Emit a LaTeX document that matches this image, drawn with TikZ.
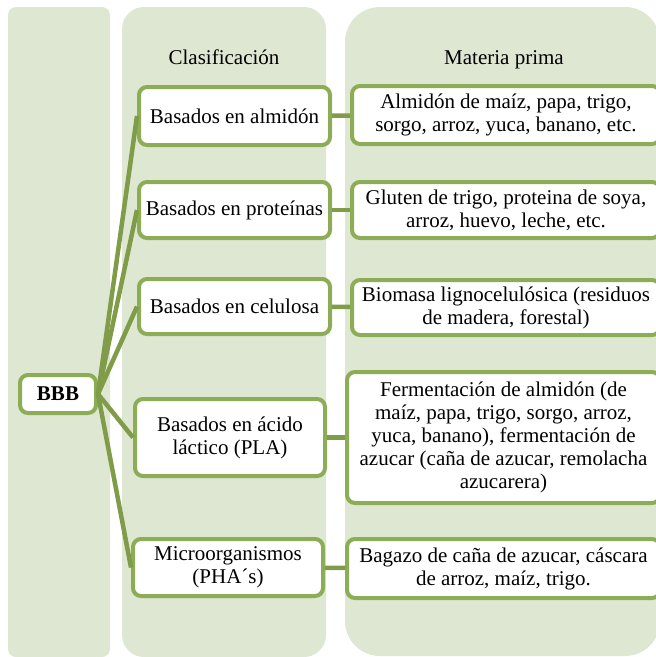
\documentclass[tikz,border=0pt]{standalone}
\usepackage{fontspec}
\setmainfont{Liberation Serif}
\newfontfamily\boxfont{Liberation Serif}
\usepackage{tikz}
\usetikzlibrary{shapes}
\definecolor{colbg}{RGB}{222,231,210}
\definecolor{boxgreen}{RGB}{141,172,86}
\definecolor{linkgreen}{RGB}{128,156,73}

\begin{document}
\begin{tikzpicture}[x=1pt, y=-1pt, thick]
	\tikzstyle{column} = [fill=colbg, draw=none]
	\tikzstyle{block} = [rectangle, draw=boxgreen, line width=4pt, fill=white, align=center, rounded corners=8pt, inner sep=0pt, font=\boxfont\fontsize{21}{23}\selectfont]
	\tikzstyle{head} = [anchor=base, font=\boxfont\fontsize{21}{23}\selectfont]
	\tikzstyle{line} = [draw, line width=4.5pt, color=linkgreen];
	\useasboundingbox (0,0) rectangle (656,657);
	\clip (0,0) rectangle (656,657);
	% columns
	\fill [column, rounded corners=8pt] (8,7) rectangle (110,657);
	\fill [column, rounded corners=22pt] (122,7) rectangle (326,657);
	\fill [column, rounded corners=35pt] (345,7) rectangle (660,656);
	\node [head] (hclas) at (224,64) {Clasificación};
	\node [head] (hmat) at (504,64) {Materia prima};
	% root
	\node [block, minimum width=76pt, minimum height=38pt] (bbb) at (58,394) {\textbf{BBB}};
	% column 2
	\node [block, minimum width=191pt, minimum height=58pt] (almidon) at (234.5,116) {Basados en almidón};
	\node [block, minimum width=191pt, minimum height=56pt] (proteinas) at (234.5,210) {Basados en proteínas};
	\node [block, minimum width=191pt, minimum height=55pt] (celulosa) at (234.5,306.5) {Basados en celulosa};
	\node [block, minimum width=190pt, minimum height=77pt] (pla) at (230,437.5) {Basados en ácido\\láctico (PLA)};
	\node [block, minimum width=190pt, minimum height=57pt] (pha) at (228,567.5) {Microorganismos\\(PHA´s)};
	% column 3
	\node [block, minimum width=308pt, minimum height=58pt] (malmidon) at (506,115) {Almidón de maíz, papa, trigo,\\sorgo, arroz, yuca, banano, etc.};
	\node [block, minimum width=308pt, minimum height=56pt] (mproteinas) at (506,210) {Gluten de trigo, proteina de soya,\\arroz, huevo, leche, etc.};
	\node [block, minimum width=308pt, minimum height=55pt] (mcelulosa) at (506,307.5) {Biomasa lignocelulósica (residuos\\de madera, forestal)};
	\node [block, minimum width=313pt, minimum height=131pt] (mpla) at (503.5,437.5) {Fermentación de almidón (de\\maíz, papa, trigo, sorgo, arroz,\\yuca, banano), fermentación de\\azucar (caña de azucar, remolacha\\azucarera)};
	\node [block, minimum width=313pt, minimum height=59pt] (mpha) at (503.5,568.5) {Bagazo de caña de azucar, cáscara\\de arroz, maíz, trigo.};
	\tikzstyle{every path}=[line]
	\path (bbb.east) -- (almidon.west);
	\path (bbb.east) -- (proteinas.west);
	\path (bbb.east) -- (celulosa.west);
	\path (bbb.east) -- (pla.west);
	\path (bbb.east) -- (pha.west);
	\path (almidon) -- (malmidon);
	\path (proteinas) -- (mproteinas);
	\path (celulosa) -- (mcelulosa);
	\path (pla) -- (mpla);
	\path (pha) -- (mpha);
\end{tikzpicture}
\end{document}
